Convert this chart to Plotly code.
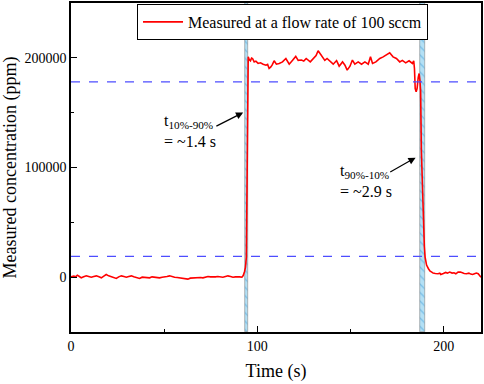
import plotly.graph_objects as go

# ---- data ----
time_s = [0, 0.5, 1.5, 2.5, 3.4, 4.5, 5.5, 6.8, 8.2, 9.5, 10.9, 12.2, 13.6, 15, 16.3, 17.6, 18.9, 20.2,
          21.6, 23, 24.3, 25.6, 27, 28.4, 29.7, 31, 32.4, 33.7, 35, 36.8, 38.2, 39.5, 40.8, 42.2, 43.5,
          44.9, 46.2, 47.5, 48.9, 50.2, 51.5, 52.9, 54.2, 55.6, 57, 58.3, 59.6, 61, 62.7, 64, 65.4, 66.8,
          68.1, 69.5, 70.8, 72.1, 73.5, 74.8, 76.1, 77.5, 78.8, 80.2, 81.5, 82.9, 84.2, 85.6, 86.9, 88.2,
          89.5, 90.6, 91.7, 92.4, 93.1, 93.6, 94.1, 94.4, 94.6, 94.8, 95.1, 95.6, 96.3, 96.9, 97.4, 98.3,
          99.2, 100.4, 101.7, 103.1, 104.6, 105.5, 106.3, 107.1, 107.9, 109, 110.2, 111.7, 113.5, 115.3,
          116.2, 117.1, 118.9, 120.6, 121.9, 123.7, 124.9, 126.2, 128.4, 130.2, 131.5, 132.6, 134.4, 136.2,
          137.4, 139.2, 140.7, 142.5, 143.5, 143.9, 145.7, 147, 148.2, 149.7, 151, 152.3, 154.1, 155.9,
          157.7, 159.5, 160.7, 161.8, 163.6, 165.7, 167.5, 169.3, 171, 172.8, 174.6, 176.4, 177.8, 179.6,
          181.4, 183.2, 183.9, 184.3, 184.7, 185.2, 185.7, 186.3, 186.8, 187.2, 187.6, 188, 188.5, 189.1,
          189.6, 190, 190.8, 191.8, 192.7, 193.6, 194.3, 195.5, 197, 197.9, 198.4, 199.8, 201, 202, 203.2,
          204.5, 205.5, 206.5, 207.7, 209, 210, 211, 212.2, 213.5, 214.5, 215.5, 216.5, 217.5, 218.5,
          219.3, 220]
conc_ppm = [300, 600, 900, 300, 1800, 600, -600, 300, 1200, 600, 0, 600, 1200, 300, -600, 900, 2400, 1200,
            600, 0, -1200, 300, 1200, 600, 0, 600, 1200, 300, -600, -1200, 0, 0, -600, -600, 300,
            0, -300, -600, 0, 0, 600, 1200, 300, 0, -300, -600, -900, -1200, -1800, -900, -600, -300,
            0, -300, -600, 0, 600, 300, 0, 300, 600, 300, 0, 600, 1200, 600, 0, 300,
            600, 300, 0, 1500, 5000, 9000, 18300, 80000, 150000, 195000, 200900, 198500, 197300, 199800, 199400, 196300,
            197000, 194900, 195500, 194200, 193300, 194000, 190300, 191500, 193300, 197300, 194200, 194900, 196300, 199400,
            197000, 194200, 197700, 201300, 197700, 198000, 197000, 199400, 196300, 199400, 202000, 206400, 202500, 197700,
            199400, 196300, 194200, 197500, 194200, 192400, 196300, 193300, 188800, 192400, 198000, 194200, 196300, 194200,
            196300, 194200, 200900, 194900, 196300, 199400, 200900, 202500, 204600, 200900, 199400, 196300, 197700, 195400,
            197300, 194900, 197300, 190000, 172000, 169000, 172000, 182000, 185700, 180000, 170000, 115700, 80000, 48000,
            28000, 18300, 11000, 7700, 5500, 4600, 3700, 3400, 3100, 3700, 2500, 3400, 4300, 3700, 4600,
            3700, 4000, 3100, 4600, 4600, 3700, 3400, 3100, 3700, 2800, 2500, 3100, 3700, 3100,
            1500, 0]

level_90 = 178000
level_10 = 19000
band_start = [93.6, 187.5]
band_end = [95.0, 190.1]

x_ticks = [0, 100, 200]
y_ticks = [0, 100000, 200000]

serif = "'Liberation Serif'"

fig = go.Figure()

# hatched bands (rise / fall windows)
fig.add_trace(go.Bar(
    x=[(s + e) / 2 for s, e in zip(band_start, band_end)],
    y=[300000, 300000],
    base=[-50000, -50000],
    width=[e - s for s, e in zip(band_start, band_end)],
    marker=dict(color="#b3e0f5", line=dict(color="#8a8a8a", width=0.6),
                pattern=dict(shape="\\", fgcolor="#3a9ad9", bgcolor="#b3e0f5", size=6, solidity=0.2)),
    showlegend=False, hoverinfo="skip",
))

fig.add_trace(go.Scatter(
    x=time_s, y=conc_ppm, mode="lines",
    line=dict(color="#ff0000", width=1.6),
    name="Measured at a flow rate of 100 sccm",
))

for lv in (level_90, level_10):
    fig.add_shape(type="line", xref="paper", x0=0, x1=1, yref="y", y0=lv, y1=lv,
                  line=dict(color="#4d4dff", width=1.2, dash="dash"), layer="above")

ann_font = dict(family=serif, size=16, color="black")
fig.add_annotation(x=48.6, y=142200, text="t<sub>10%-90%</sub>", showarrow=False,
                   xanchor="left", yanchor="middle", font=ann_font)
fig.add_annotation(x=48.6, y=123900, text="= ~1.4 s", showarrow=False,
                   xanchor="left", yanchor="middle", font=ann_font)
fig.add_annotation(x=143.2, y=96100, text="t<sub>90%-10%</sub>", showarrow=False,
                   xanchor="left", yanchor="middle", font=ann_font)
fig.add_annotation(x=143.2, y=78300, text="= ~2.9 s", showarrow=False,
                   xanchor="left", yanchor="middle", font=ann_font)

fig.add_annotation(x=92.4, y=150100, ax=77.2, ay=137000, axref="x", ayref="y", xref="x", yref="y",
                   text="", showarrow=True, arrowhead=2, arrowsize=1.2, arrowwidth=1.2, arrowcolor="black")
fig.add_annotation(x=184.9, y=109000, ax=170.5, ay=95200, axref="x", ayref="y", xref="x", yref="y",
                   text="", showarrow=True, arrowhead=2, arrowsize=1.2, arrowwidth=1.2, arrowcolor="black")

axis_common = dict(showline=True, linecolor="black", linewidth=1.5, mirror=True, showgrid=False,
                   zeroline=False, ticks="inside", ticklen=6, tickwidth=1.2, tickcolor="black",
                   automargin=False,
                   tickfont=dict(family=serif, size=14, color="black"))

fig.update_xaxes(range=[0, 220], tickvals=x_ticks, ticktext=[str(v) for v in x_ticks],
                 minor=dict(tickvals=[50, 150], ticks="inside", ticklen=3, tickcolor="black"),
                 title=dict(text="Time (s)", font=dict(family=serif, size=18, color="black"), standoff=12),
                 **axis_common)
fig.update_yaxes(range=[-50000, 250000], tickvals=y_ticks, ticktext=[str(v) for v in y_ticks],
                 minor=dict(tickvals=[-50000, 50000, 150000, 250000], ticks="inside", ticklen=3, tickcolor="black"),
                 title=dict(text="Measured concentration (ppm)", font=dict(family=serif, size=18, color="black"),
                            standoff=4),
                 **axis_common)

fig.update_layout(
    width=484, height=384,
    margin=dict(l=71, r=3, t=3, b=52),
    paper_bgcolor="white", plot_bgcolor="white",
    bargap=0,
    font=dict(family=serif),
    legend=dict(x=0.161, y=0.997, xanchor="left", yanchor="top",
                bordercolor="black", borderwidth=1, bgcolor="white",
                font=dict(family=serif, size=16, color="black"),
                itemwidth=40, tracegroupgap=0),
)

fig.write_html("out.html", config={"displayModeBar": False},
               post_script="document.body.style.margin='0px';")
